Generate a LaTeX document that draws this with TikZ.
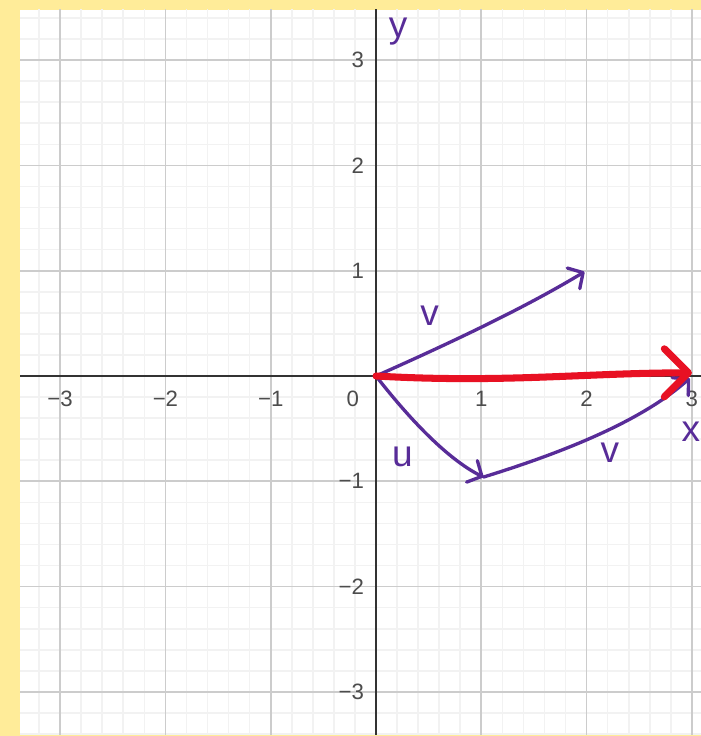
\documentclass[tikz,border=0pt]{standalone}
\usepackage{fontspec}
\setmainfont{Liberation Sans}
\usetikzlibrary{arrows.meta}
\definecolor{padyellow}{RGB}{255,236,153}
\definecolor{minorgray}{RGB}{242,242,242}
\definecolor{majorgray}{RGB}{204,204,204}
\definecolor{axisgray}{RGB}{51,51,51}
\definecolor{penpurple}{RGB}{88,44,152}
\definecolor{penred}{RGB}{232,17,35}
\tikzset{
  minorline/.style={draw=minorgray, line width=0.9pt},
  majorline/.style={draw=majorgray, line width=0.9pt},
  axisline/.style={draw=axisgray, line width=1pt},
  ticklabel/.style={text=black!70, font=\fontsize{12}{14}\selectfont, inner sep=0pt},
  pen/.style={draw=penpurple, line width=1.8pt, line cap=round, line join=round,
    -{Straight Barb[length=6pt, width=13pt, line width=1.8pt, round]}},
  redpen/.style={draw=penred, line width=3.8pt, line cap=round, line join=round,
    -{Straight Barb[length=13pt, width=26pt, line width=3.8pt, round]}},
  penlabel/.style={text=penpurple, font=\fontsize{20}{22}\selectfont, inner sep=0pt},
}

\begin{document}
\begin{tikzpicture}[x=2cm, y=2cm]
    % frame and paper
    \useasboundingbox (-3.571,-3.419) rectangle (3.086,3.571);
    \clip (-3.571,-3.419) rectangle (3.086,3.571);
    \fill[padyellow] (-3.571,-3.419) rectangle (3.086,3.571);
    \fill[white] (-3.381,-3.40) rectangle (3.086,3.476);
    \begin{scope}
      \clip (-3.381,-3.40) rectangle (3.086,3.476);
      \draw[minorline] (-4,-4) grid[step=0.2] (4,4);
      \draw[majorline] (-4,-4) grid[step=1] (4,4);
      \draw[axisline] (-4,0) -- (4,0);
      \draw[axisline] (0,-4) -- (0,4);
    \end{scope}
    % tick labels
    \foreach \k/\t/\n in {-3/−3/a, -2/−2/b, -1/−1/c, 1/1/d, 2/2/e, 3/3/f} {
      \node[ticklabel] (xt\n) at (\k,-0.22) {\t};
      \node[ticklabel, anchor=east] (yt\n) at (-0.11,\k) {\t};
    }
    \node[ticklabel] (zero) at (-0.22,-0.22) {0};
    % vectors
    \coordinate (O) at (0,0);
    \coordinate (A) at (1.98,0.99);
    \coordinate (B) at (1.02,-0.96);
    \coordinate (C) at (2.98,-0.02);
    \coordinate (R) at (3.0,0.03);
    \draw[pen] (O) .. controls (0.9,0.4) and (1.5,0.7) .. (A);
    \draw[pen] (O) .. controls (0.35,-0.45) and (0.7,-0.8) .. (B);
    \draw[pen] (B) .. controls (1.7,-0.75) and (2.5,-0.45) .. (C);
    \draw[redpen] (O) .. controls (1.2,-0.07) and (2.0,0.03) .. (R);
    % handwritten labels
    \node[penlabel] (vtop) at (0.51,0.57) {v};
    \node[penlabel] (ulab) at (0.25,-0.77) {u};
    \node[penlabel] (vbot) at (2.22,-0.73) {v};
    \node[penlabel] (xlab) at (2.99,-0.53) {x};
    \node[penlabel] (ylab) at (0.21,3.27) {y};
  \end{tikzpicture}
\end{document}
